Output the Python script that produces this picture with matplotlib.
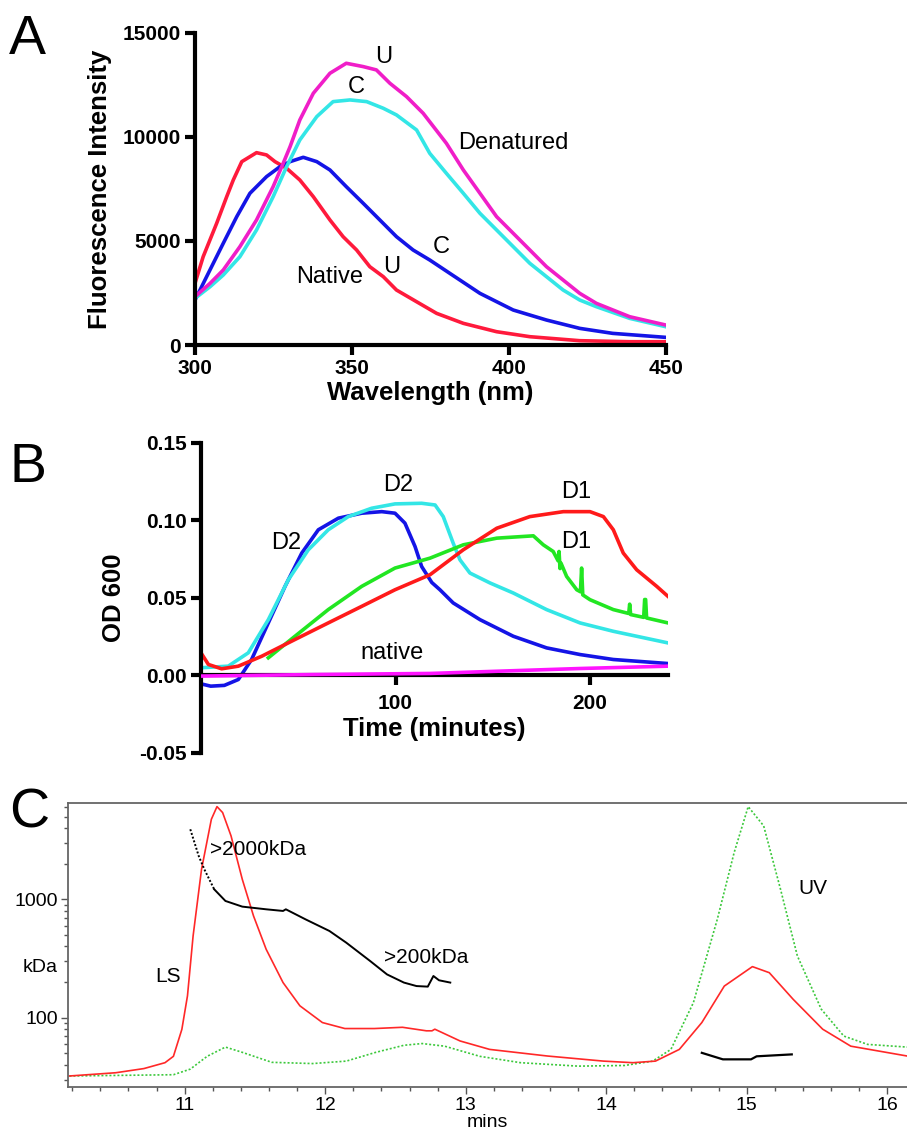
import numpy as np
import matplotlib
matplotlib.use("Agg")
import matplotlib.pyplot as plt
import matplotlib.transforms as mtransforms
from matplotlib.ticker import LogLocator, NullFormatter, FixedLocator, MultipleLocator

plt.rcParams["font.family"] = ["Liberation Sans", "DejaVu Sans"]

# === Panel A: fluorescence spectra ===
wl_native_u = [300, 302.6, 306.9, 310.1, 312.2, 314.9, 319.6, 322.8, 325.5, 329.2, 333.4, 337.7, 343, 347.2, 351.5, 355.7, 360, 364.2, 370.6, 377, 385.5, 396.1, 406.7, 422.6, 438.5, 450]
fl_native_u = [2966, 4245, 5850, 7130, 7933, 8813, 9245, 9135, 8813, 8494, 7933, 7130, 6010, 5206, 4567, 3765, 3285, 2644, 2082, 1522, 1043, 641, 401, 209, 160, 160]

wl_native_c = [300, 303.7, 309, 313.3, 317.5, 322.8, 327.1, 330.3, 334.5, 338.8, 343, 348.2, 353.6, 358.9, 364.2, 369.5, 374.8, 381.2, 390.8, 401.4, 412, 422.6, 433.1, 450]
fl_native_c = [2163, 3285, 4888, 6170, 7292, 8093, 8574, 8814, 9022, 8814, 8413, 7612, 6811, 6010, 5208, 4567, 4087, 3445, 2484, 1683, 1202, 801, 561, 369]

wl_denat_u = [300, 304.8, 309, 314.3, 319.6, 324.9, 328.1, 330.3, 333.4, 337.7, 343, 348.2, 353.6, 357.8, 362.1, 367.4, 372.7, 377, 380.1, 385.5, 390.8, 396.1, 401.4, 406.7, 412, 417.3, 422.6, 427.9, 438.5, 450]
fl_denat_u = [2323, 2966, 3606, 4727, 6010, 7612, 8734, 9535, 10817, 12099, 13061, 13541, 13381, 13221, 12580, 11939, 11138, 10300, 9695, 8413, 7292, 6170, 5369, 4567, 3765, 3125, 2484, 2003, 1362, 962]

wl_denat_c = [300, 304.8, 309, 314.3, 319.6, 324.9, 329.2, 333.4, 338.8, 344, 349.4, 354.7, 360, 364.2, 370.6, 374.8, 380.1, 385.5, 390.8, 396.1, 401.4, 406.7, 412, 417.3, 422.6, 427.9, 438.5, 450]
fl_denat_c = [2244, 2804, 3365, 4245, 5529, 7130, 8574, 9855, 10977, 11698, 11779, 11698, 11378, 11058, 10337, 9214, 8253, 7292, 6330, 5529, 4727, 3926, 3285, 2644, 2163, 1843, 1282, 881]

# === Panel B: turbidity (OD 600) ===
t_d2_blue = [0, 5, 12, 19.2, 26, 34.6, 43.2, 51.8, 60.3, 70.6, 82.6, 92.9, 99.7, 104.8, 110, 113.4, 118.6, 122.8, 129.6, 143.4, 160.5, 177.6, 194.8, 211.9, 240]
od_d2_blue = [-0.0054, -0.0069, -0.0064, -0.0026, 0.0103, 0.0339, 0.0575, 0.0790, 0.0940, 0.1015, 0.1047, 0.1057, 0.1047, 0.0983, 0.0832, 0.0703, 0.0600, 0.0553, 0.0468, 0.0360, 0.0253, 0.0178, 0.0135, 0.0103, 0.0077]

t_d2_cyan = [0.4, 14, 24.3, 34.6, 44.9, 55.1, 65.4, 75.7, 87.7, 99.7, 113.4, 120.3, 124.5, 129.6, 133.1, 138.2, 148.5, 160.5, 177.6, 194.8, 211.9, 240]
od_d2_cyan = [0.0050, 0.0060, 0.0146, 0.0360, 0.0618, 0.0810, 0.0940, 0.1025, 0.1079, 0.1107, 0.1111, 0.1100, 0.1025, 0.0854, 0.0746, 0.0661, 0.0597, 0.0532, 0.0425, 0.0339, 0.0285, 0.0210]

t_d1_green = [34.6, 48.3, 65.4, 82.6, 99.7, 117.7, 134.8, 152, 170.8, 175.9, 181, 183.5, 184, 184.5, 185, 187.9, 193.1, 195, 195.6, 196.2, 199.9, 211.9, 219.8, 220.3, 220.8, 227.5, 228, 228.5, 229, 240]
od_d1_green = [0.0114, 0.0253, 0.0425, 0.0575, 0.0693, 0.0757, 0.0843, 0.0886, 0.0901, 0.0843, 0.0800, 0.0740, 0.0800, 0.0690, 0.0725, 0.0639, 0.0553, 0.0540, 0.0693, 0.0520, 0.0489, 0.0425, 0.0400, 0.0460, 0.0393, 0.0375, 0.0490, 0.0490, 0.0371, 0.0339]

t_d1_red = [0, 3.8, 10.6, 19.2, 31.2, 48.3, 65.4, 82.6, 99.7, 117.7, 134.8, 152, 169, 186.2, 199.9, 206.8, 211.9, 217, 223.9, 234.2, 240]
od_d1_red = [0.0146, 0.0071, 0.0043, 0.0060, 0.0124, 0.0232, 0.0339, 0.0446, 0.0553, 0.0650, 0.0811, 0.0950, 0.1025, 0.1057, 0.1057, 0.1025, 0.0940, 0.0790, 0.0682, 0.0575, 0.0510]

t_native = [0, 58, 117.7, 195, 240]
od_native = [-0.0004, 0.0006, 0.0013, 0.0045, 0.0060]

# === Panel C: SEC-MALS ===
t_ls = [10.18, 10.51, 10.71, 10.86, 10.92, 10.98, 11.02, 11.06, 11.12, 11.19, 11.23, 11.27, 11.33, 11.41, 11.49, 11.58, 11.70, 11.82, 11.98, 12.14, 12.35, 12.55, 12.72, 12.76, 12.78, 12.96, 13.17, 13.58, 13.98, 14.19, 14.35, 14.52, 14.68, 14.84, 15.04, 15.16, 15.33, 15.54, 15.74, 16.14]
ls = [32.2, 34.3, 37.2, 41.7, 47.2, 79.7, 153, 490, 1790, 4740, 6060, 5400, 3430, 1475, 723, 378, 198, 126, 91, 81, 81, 83, 77.5, 77.5, 80, 63.6, 54, 47.5, 43, 41.7, 43, 54, 91, 185, 270, 240, 143, 80, 57.5, 47.5]

t_uv = [10.18, 10.92, 11.04, 11.16, 11.29, 11.41, 11.62, 11.91, 12.15, 12.36, 12.56, 12.69, 12.85, 13.10, 13.39, 13.80, 14.13, 14.33, 14.46, 14.62, 14.79, 14.91, 15.01, 15.12, 15.24, 15.36, 15.53, 15.69, 15.86, 16.14]
uv = [32.2, 33, 36.8, 47.2, 56.5, 51, 42, 41, 43, 51, 58.5, 60.5, 57.5, 47.2, 41.7, 39, 39.5, 43, 54, 134, 677, 2480, 6060, 4170, 1215, 332, 118, 70, 59.5, 56.5]

t_mw_edge = [11.04, 11.10, 11.14, 11.21]
mw_edge = [3900, 2320, 1790, 1215]
t_mw_agg = [11.21, 11.29, 11.41, 11.58, 11.70, 11.72, 11.86, 12.03, 12.15, 12.32, 12.44, 12.56, 12.65, 12.73, 12.77, 12.81, 12.89]
mw_agg = [1215, 968, 867, 823, 797, 823, 677, 540, 430, 301, 232, 198, 185, 183, 225, 207, 198]
t_mw_mono = [14.68, 14.83, 15.03, 15.07, 15.32]
mw_mono = [50.5, 44.5, 44.5, 47.2, 49]


def style_prism(ax):
    for s in ["top", "right"]:
        ax.spines[s].set_visible(False)
    for s in ["left", "bottom"]:
        ax.spines[s].set_linewidth(3)
    ax.tick_params(direction="out", length=7, width=3, labelsize=15, pad=3)
    for lab in ax.get_xticklabels() + ax.get_yticklabels():
        lab.set_fontweight("bold")


fig = plt.figure(figsize=(9.07, 11.35), dpi=100)

# --- A ---
axA = fig.add_axes([0.215, 0.696, 0.519, 0.275])
axA.plot(wl_native_u, fl_native_u, color="#ff1a3c", lw=2.6)
axA.plot(wl_native_c, fl_native_c, color="#1414e6", lw=2.6)
axA.plot(wl_denat_c, fl_denat_c, color="#33e6e6", lw=2.6)
axA.plot(wl_denat_u, fl_denat_u, color="#f01ec8", lw=2.6)
axA.set_xlim(300, 450)
axA.set_ylim(0, 15000)
axA.set_xticks([300, 350, 400, 450])
axA.set_yticks([0, 5000, 10000, 15000])
style_prism(axA)
axA.set_xlabel("Wavelength (nm)", fontsize=18.5, fontweight="bold", labelpad=2)
axA.set_ylabel("Fluorescence Intensity", fontsize=18.5, fontweight="bold", labelpad=8)
for x, y, s in [(360, 13860, "U"), (351.5, 12420, "C"), (401.4, 9700, "Denatured"),
                (378.6, 4730, "C"), (362.6, 3770, "U"), (343, 3290, "Native")]:
    axA.text(x, y, s, fontsize=17, ha="center", va="center")

# --- B ---
axB = fig.add_axes([0.2216, 0.3366, 0.5149, 0.2731])
axB.plot(t_native, od_native, color="#ff14ff", lw=2.6, zorder=3)
axB.plot(t_d2_blue, od_d2_blue, color="#1414e6", lw=2.6)
axB.plot(t_d2_cyan, od_d2_cyan, color="#33e6e6", lw=2.6)
axB.plot(t_d1_green, od_d1_green, color="#22e622", lw=2.6)
axB.plot(t_d1_red, od_d1_red, color="#ff1a1a", lw=2.6)
axB.set_xlim(0, 240)
axB.set_ylim(-0.05, 0.15)
axB.set_xticks([100, 200])
axB.set_yticks([-0.05, 0.0, 0.05, 0.10, 0.15])
axB.set_yticklabels(["-0.05", "0.00", "0.05", "0.10", "0.15"])
axB.spines["bottom"].set_position(("data", 0))
style_prism(axB)
axB.tick_params(axis="x", pad=6)
axB.set_xlabel("Time (minutes)", fontsize=18.5, fontweight="bold", labelpad=3)
axB.set_ylabel("OD 600", fontsize=18.5, fontweight="bold", labelpad=10)
for x, y, s in [(44, 0.0854, "D2"), (101.4, 0.1229, "D2"), (193, 0.1186, "D1"),
                (193, 0.0864, "D1"), (98, 0.0146, "native")]:
    axB.text(x, y, s, fontsize=17, ha="center", va="center")

# --- C ---
axC = fig.add_axes([0.075, 0.0423, 0.925, 0.2502])
axC.plot(t_uv, uv, color="#3cc83c", lw=1.2, ls=(0, (1.2, 1.2)))
axC.plot(t_ls, ls, color="#ff2828", lw=1.2)
axC.plot(t_mw_edge, mw_edge, color="black", lw=1.4, ls=(0, (1, 1)))
axC.plot(t_mw_agg, mw_agg, color="black", lw=1.4)
axC.plot(t_mw_mono, mw_mono, color="black", lw=1.6)
axC.set_yscale("log")
axC.set_xlim(10.17, 16.14)
axC.set_ylim(26, 6500)
axC.yaxis.set_major_locator(FixedLocator([100, 1000]))
axC.yaxis.set_minor_locator(LogLocator(base=10, subs=np.arange(2, 10)))
axC.yaxis.set_minor_formatter(NullFormatter())
axC.set_yticklabels(["100", "1000"])
axC.xaxis.set_major_locator(MultipleLocator(1))
axC.xaxis.set_minor_locator(MultipleLocator(0.2))
axC.spines["right"].set_visible(False)
for s in ["top", "left", "bottom"]:
    axC.spines[s].set_color("#666666")
    axC.spines[s].set_linewidth(1.3)
axC.tick_params(which="both", direction="out", color="#555555", labelsize=14, pad=2)
axC.tick_params(which="major", length=5, width=1)
axC.tick_params(which="minor", length=3, width=1)
axC.set_xlabel("mins", fontsize=14, labelpad=0)
trans = mtransforms.blended_transform_factory(axC.transAxes, axC.transData)
axC.text(-0.012, 265, "kDa", transform=trans, fontsize=14, ha="right", va="center")
for x, y, s, ha in [(11.18, 2650, ">2000kDa", "left"), (10.88, 224, "LS", "center"),
                    (12.42, 321, ">200kDa", "left"), (15.47, 1240, "UV", "center")]:
    axC.text(x, y, s, fontsize=15, ha=ha, va="center")

# --- panel letters ---
fig.text(0.010, 0.988, "A", fontsize=40, va="top")
fig.text(0.010, 0.611, "B", fontsize=40, va="top")
fig.text(0.010, 0.306, "C", fontsize=40, va="top")

fig.savefig("out.png", dpi=100)
